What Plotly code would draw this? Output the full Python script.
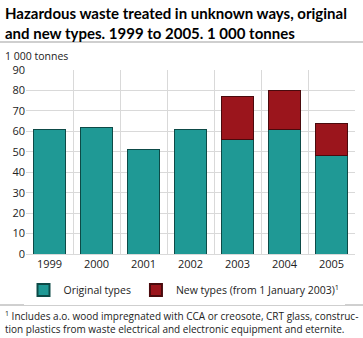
import plotly.graph_objects as go

years = ["1999", "2000", "2001", "2002", "2003", "2004", "2005"]
original_types = [61, 62, 51, 61, 56, 61, 48]
new_types = [None, None, None, None, 21, 19, 16]
y_ticks = [0, 10, 20, 30, 40, 50, 60, 70, 80, 90]

W, H = 363, 338
L, R, T, B = 26, 8, 70, 84
ph = H - T - B
pw = W - L - R

def py(p):
    return (H - B - p) / ph

def px(p):
    return (p - L) / pw

fig = go.Figure()
fig.add_trace(go.Bar(x=years, y=original_types, name="Original types",
                     marker=dict(color="#1f9995", line=dict(color="#0d4a47", width=1))))
fig.add_trace(go.Bar(x=years, y=new_types, name="New types (from 1 January 2003)<sup>1</sup>",
                     marker=dict(color="#9b151c", line=dict(color="#4a0a0d", width=1))))

font = "Open Sans, Liberation Sans, sans-serif"
fig.update_layout(
    width=W, height=H, barmode="stack", bargap=0.3,
    margin=dict(l=L, r=R, t=T, b=B),
    paper_bgcolor="white", plot_bgcolor="white",
    font=dict(family=font, size=11, color="#222"),
    showlegend=True,
    legend=dict(orientation="h", x=px(184), xanchor="center", xref="paper",
                y=py(290), yanchor="middle", font=dict(size=10.5, color="#222"),
                itemsizing="constant", traceorder="normal", itemwidth=30,
                tracegroupgap=0),
    xaxis=dict(type="category", tickson="boundaries", showgrid=True, gridcolor="#d9d9d9",
               gridwidth=1, ticks="", showline=True, linecolor="#d9d9d9",
               tickfont=dict(size=11, color="#222"), mirror=False),
    yaxis=dict(range=[0, 90], tickvals=y_ticks, showgrid=True, gridcolor="#d9d9d9",
               gridwidth=1, zeroline=False, showline=False, ticks="",
               tickfont=dict(size=11, color="#222")),
)

fig.add_annotation(text="<b>Hazardous waste treated in unknown ways, original<br>and new types. 1999 to 2005. 1 000 tonnes</b>",
                   xref="paper", yref="paper", x=px(3), y=py(2), xanchor="left", yanchor="top",
                   align="left", showarrow=False, font=dict(size=15, color="#000", family="Lato, Open Sans, sans-serif"))
fig.add_annotation(text="1 000 tonnes", xref="paper", yref="paper", x=px(3), y=py(56),
                   xanchor="left", yanchor="middle", showarrow=False, font=dict(size=10.5, color="#222"))
fig.add_annotation(text="<sup>1</sup> Includes a.o. wood impregnated with CCA or creosote, CRT glass, construc-<br>tion plastics from waste electrical and electronic equipment and eternite.",
                   xref="paper", yref="paper", x=px(3), y=py(307), xanchor="left", yanchor="top",
                   align="left", showarrow=False, font=dict(size=10, color="#222"))

fig.add_shape(type="line", xref="paper", yref="paper", x0=px(0), x1=px(W), y0=py(42), y1=py(42),
              line=dict(color="#cfcfcf", width=2))
fig.add_shape(type="line", xref="paper", yref="paper", x0=px(0), x1=px(W), y0=py(305), y1=py(305),
              line=dict(color="#a0a0a0", width=1))

fig.write_html("out.html")
